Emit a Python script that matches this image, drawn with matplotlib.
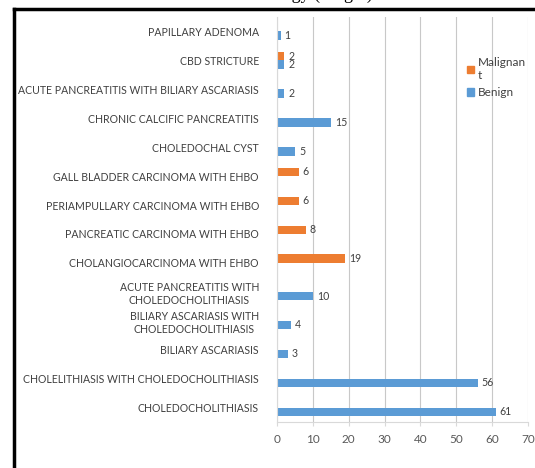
import matplotlib.pyplot as plt
import numpy as np
from matplotlib.lines import Line2D
from matplotlib.patches import Patch

plt.rcParams['font.family'] = ['Lato', 'DejaVu Sans']

categories = [
    "PAPILLARY ADENOMA",
    "CBD STRICTURE",
    "ACUTE PANCREATITIS WITH BILIARY ASCARIASIS",
    "CHRONIC CALCIFIC PANCREATITIS",
    "CHOLEDOCHAL CYST",
    "GALL BLADDER CARCINOMA WITH EHBO",
    "PERIAMPULLARY CARCINOMA WITH EHBO",
    "PANCREATIC CARCINOMA WITH EHBO",
    "CHOLANGIOCARCINOMA WITH EHBO",
    "ACUTE PANCREATITIS WITH\nCHOLEDOCHOLITHIASIS",
    "BILIARY ASCARIASIS WITH\nCHOLEDOCHOLITHIASIS",
    "BILIARY ASCARIASIS",
    "CHOLELITHIASIS WITH CHOLEDOCHOLITHIASIS",
    "CHOLEDOCHOLITHIASIS",
]
malignant = [0, 2, 0, 0, 0, 6, 6, 8, 19, 0, 0, 0, 0, 0]
benign = [1, 2, 2, 15, 5, 0, 0, 0, 0, 10, 4, 3, 56, 61]

blue = '#5B9BD5'
orange = '#ED7D31'
text_col = '#404040'

fig = plt.figure(figsize=(5.35, 4.68), dpi=100)
ax = fig.add_axes([0.5178, 0.0983, 0.469, 0.8654])

y = np.arange(len(categories))
h = 0.29
ax.barh(y - h / 2, malignant, height=h, color=orange)
ax.barh(y + h / 2, benign, height=h, color=blue)

for yi, v in zip(y, malignant):
    if v:
        ax.text(v + 1.1, yi - h / 2, str(v), va='center', ha='left',
                fontsize=7.6, color=text_col)
for yi, v in zip(y, benign):
    if v:
        ax.text(v + 1.1, yi + h / 2, str(v), va='center', ha='left',
                fontsize=7.6, color=text_col)

ax.set_ylim(len(categories) - 0.5, -0.5)
ax.set_xlim(0, 70)
ax.set_xticks(np.arange(0, 71, 10))
ax.set_yticks(y)
ax.set_yticklabels(categories, fontsize=7.6, color=text_col, multialignment='center')
ax.tick_params(axis='y', length=0, pad=13)
ax.tick_params(axis='x', length=3, color='#D9D9D9', labelsize=8.5, labelcolor='#595959', pad=6)
ax.grid(axis='x', color='#C8C8C8', linewidth=0.8)
ax.set_axisbelow(True)
for s in ['top', 'right']:
    ax.spines[s].set_visible(False)
for s in ['left', 'bottom']:
    ax.spines[s].set_color('#D9D9D9')

handles = [Patch(color=orange), Patch(color=blue)]
fig.legend(handles, ["Malignan\nt", "Benign"], loc='upper left',
           bbox_to_anchor=(0.862, 0.89), frameon=False, fontsize=8.5,
           labelcolor=text_col, handlelength=0.6, handleheight=0.6,
           handletextpad=0.3, labelspacing=0.5, borderpad=0)

# black frame around the figure (left and top edges visible)
fig.add_artist(Line2D([0.0262, 0.0262], [0.0, 0.9818], color='black', lw=2.5,
                      transform=fig.transFigure))
fig.add_artist(Line2D([0.0262, 1.0], [0.9818, 0.9818], color='black', lw=2.5,
                      transform=fig.transFigure))

fig.text(0.697, 1.002, "Etiology (Origin)", ha='right', va='baseline',
         fontsize=13, family='Liberation Serif', color='black')

fig.savefig('out.png', dpi=100)
